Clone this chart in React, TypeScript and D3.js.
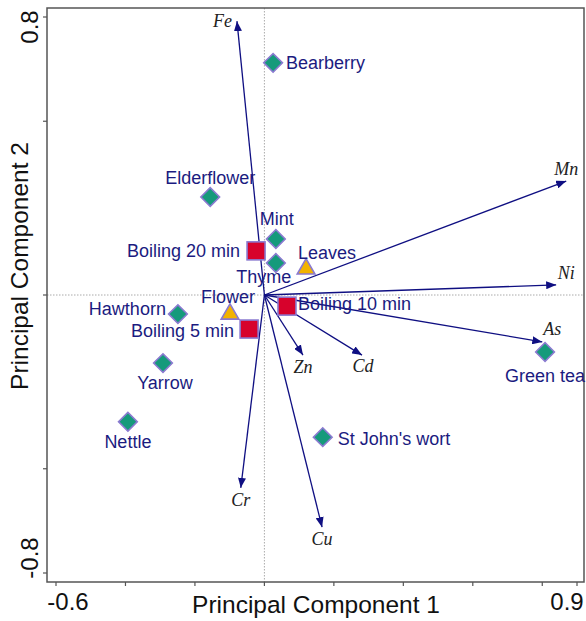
import React from "react";
import * as d3 from "d3";

// ---- data ----
const sampleNames = ["Bearberry", "Elderflower", "Mint", "Thyme", "Hawthorn", "Yarrow", "Nettle", "St John's wort", "Green tea"];
const sampleX = [0.025, -0.156, 0.033, 0.033, -0.249, -0.292, -0.393, 0.168, 0.808];
const sampleY = [0.668, 0.282, 0.161, 0.092, -0.055, -0.196, -0.365, -0.409, -0.164];

const boilNames = ["Boiling 20 min", "Boiling 10 min", "Boiling 5 min"];
const boilX = [-0.024, 0.065, -0.044];
const boilY = [0.127, -0.032, -0.098];

const partNames = ["Leaves", "Flower"];
const partX = [0.12, -0.099];
const partY = [0.078, -0.052];

const elementNames = ["Fe", "Mn", "Ni", "As", "Zn", "Cd", "Cr", "Cu"];
const elementX = [-0.079, 0.869, 0.84, 0.8, 0.111, 0.281, -0.068, 0.166];
const elementY = [0.788, 0.328, 0.029, -0.135, -0.173, -0.173, -0.555, -0.668];

const xTicks = [-0.6, -0.4, -0.2, 0, 0.2, 0.4, 0.6, 0.8, 0.9];
const yTicks = [-0.8, -0.5, 0, 0.5, 0.8];
const xTickLabels = ["-0.6", "0.9"];
const yTickLabels = ["0.8", "-0.8"];
const xTitle = "Principal Component 1";
const yTitle = "Principal Component 2";

// ---- label placement (style) ----
type Place = { dx: number; dy: number; anchor: "start" | "middle" | "end" };
const sampleLabelPlace: Record<string, Place> = {
  Bearberry: { dx: 13, dy: 6, anchor: "start" },
  Elderflower: { dx: 0, dy: -13, anchor: "middle" },
  Mint: { dx: 1, dy: -14, anchor: "middle" },
  Thyme: { dx: -12, dy: 20, anchor: "middle" },
  Hawthorn: { dx: -12, dy: 1, anchor: "end" },
  Yarrow: { dx: 2, dy: 26, anchor: "middle" },
  Nettle: { dx: 0, dy: 26, anchor: "middle" },
  "St John's wort": { dx: 15, dy: 8, anchor: "start" },
  "Green tea": { dx: 0, dy: 30, anchor: "middle" },
  "Boiling 20 min": { dx: -16, dy: 6, anchor: "end" },
  "Boiling 10 min": { dx: 11, dy: 4, anchor: "start" },
  "Boiling 5 min": { dx: -15, dy: 8, anchor: "end" },
  Leaves: { dx: -8, dy: -9, anchor: "start" },
  Flower: { dx: 25, dy: -10, anchor: "end" },
};
const elementLabelPlace: Record<string, Place> = {
  Fe: { dx: -5, dy: 6, anchor: "end" },
  Mn: { dx: 0, dy: -6, anchor: "middle" },
  Ni: { dx: 10, dy: -6, anchor: "middle" },
  As: { dx: 10, dy: -7, anchor: "middle" },
  Zn: { dx: 0, dy: 18, anchor: "middle" },
  Cd: { dx: 1, dy: 17, anchor: "middle" },
  Cr: { dx: 0, dy: 18, anchor: "middle" },
  Cu: { dx: 0, dy: 18, anchor: "middle" },
};

const W = 586;
const H = 621;
const frame = { left: 47, right: 584, top: 8, bottom: 582 };

const navy = "#1b1b80";
const arrowColor = "#0f0f82";
const markStroke = "#8a7ad0";
const sans = "'Liberation Sans', Arial, sans-serif";
const serif = "'Liberation Serif', 'Times New Roman', serif";

export default function App() {
  const x = d3.scaleLinear().domain([-0.6, 0.9]).range([56, 577]);
  const y = d3.scaleLinear().domain([-0.8, 0.8]).range([573, 17]);
  const ox = x(0);
  const oy = y(0);

  const diamond = d3.symbol().type(d3.symbolSquare).size(175)();
  const triangle = d3.symbol().type(d3.symbolTriangle).size(135)();

  const label = (name: string, px: number, py: number) => {
    const p = sampleLabelPlace[name];
    return (
      <text key={"l" + name} x={px + p.dx} y={py + p.dy} textAnchor={p.anchor} fontFamily={sans} fontSize={18} fill={navy}>
        {name}
      </text>
    );
  };

  return (
    <svg width={W} height={H} style={{ position: "absolute", left: 0, top: 0, background: "#fff" }}>
      <defs>
        <marker id="ah" viewBox="0 0 10 8" refX="10" refY="4" markerWidth="10" markerHeight="8" markerUnits="userSpaceOnUse" orient="auto">
          <path d="M0,0 L10,4 L0,8 Z" fill={arrowColor} />
        </marker>
      </defs>
      {/* zero lines */}
      <line x1={ox} x2={ox} y1={frame.top} y2={frame.bottom} stroke="#aaa" strokeWidth={1} strokeDasharray="1.5,1.5" />
      <line x1={frame.left} x2={frame.right} y1={oy} y2={oy} stroke="#aaa" strokeWidth={1} strokeDasharray="1.5,1.5" />
      {/* frame */}
      <rect x={frame.left} y={frame.top} width={frame.right - frame.left} height={frame.bottom - frame.top} fill="none" stroke="#555" strokeWidth={1.5} />
      {/* ticks */}
      {xTicks.map((t) => (
        <line key={"xt" + t} x1={x(t)} x2={x(t)} y1={frame.bottom} y2={frame.bottom + 4} stroke="#555" strokeWidth={1.2} />
      ))}
      {yTicks.map((t) => (
        <line key={"yt" + t} x1={frame.left - 4} x2={frame.left} y1={y(t)} y2={y(t)} stroke="#555" strokeWidth={1.2} />
      ))}
      {/* tick labels */}
      <text x={x(-0.6) + 12} y={610} textAnchor="middle" fontFamily={sans} fontSize={24} fill="#111">{xTickLabels[0]}</text>
      <text x={x(0.9) - 10} y={610} textAnchor="middle" fontFamily={sans} fontSize={24} fill="#111">{xTickLabels[1]}</text>
      <text transform={`translate(38,${y(0.8) + 10}) rotate(-90)`} textAnchor="middle" fontFamily={sans} fontSize={24} fill="#111">{yTickLabels[0]}</text>
      <text transform={`translate(38,${y(-0.8) - 15}) rotate(-90)`} textAnchor="middle" fontFamily={sans} fontSize={24} fill="#111">{yTickLabels[1]}</text>
      {/* axis titles */}
      <text x={316} y={613} textAnchor="middle" fontFamily={sans} fontSize={24.5} fill="#111">{xTitle}</text>
      <text transform={`translate(28,266) rotate(-90)`} textAnchor="middle" fontFamily={sans} fontSize={24.5} fill="#111">{yTitle}</text>

      {/* arrows */}
      {elementNames.map((n, i) => (
        <line key={"a" + n} x1={ox} y1={oy} x2={x(elementX[i])} y2={y(elementY[i])} stroke={arrowColor} strokeWidth={1.3} markerEnd="url(#ah)" />
      ))}
      {elementNames.map((n, i) => {
        const p = elementLabelPlace[n];
        return (
          <text key={"e" + n} x={x(elementX[i]) + p.dx} y={y(elementY[i]) + p.dy} textAnchor={p.anchor} fontFamily={serif} fontStyle="italic" fontSize={18} fill="#222">
            {n}
          </text>
        );
      })}

      {/* sample diamonds */}
      {sampleNames.map((n, i) => (
        <path key={"d" + n} d={diamond!} transform={`translate(${x(sampleX[i])},${y(sampleY[i])}) rotate(45)`} fill="#159a7b" stroke={markStroke} strokeWidth={1.6} />
      ))}
      {/* boiling squares */}
      {boilNames.map((n, i) => (
        <rect key={"s" + n} x={x(boilX[i]) - 9} y={y(boilY[i]) - 9} width={18} height={18} fill="#d7022c" stroke={markStroke} strokeWidth={1.6} />
      ))}
      {/* part triangles */}
      {partNames.map((n, i) => (
        <path key={"t" + n} d={triangle!} transform={`translate(${x(partX[i])},${y(partY[i]) + 1})`} fill="#f2b300" stroke={markStroke} strokeWidth={1.6} />
      ))}

      {/* labels */}
      {sampleNames.map((n, i) => label(n, x(sampleX[i]), y(sampleY[i])))}
      {boilNames.map((n, i) => label(n, x(boilX[i]), y(boilY[i])))}
      {partNames.map((n, i) => label(n, x(partX[i]), y(partY[i])))}
    </svg>
  );
}
